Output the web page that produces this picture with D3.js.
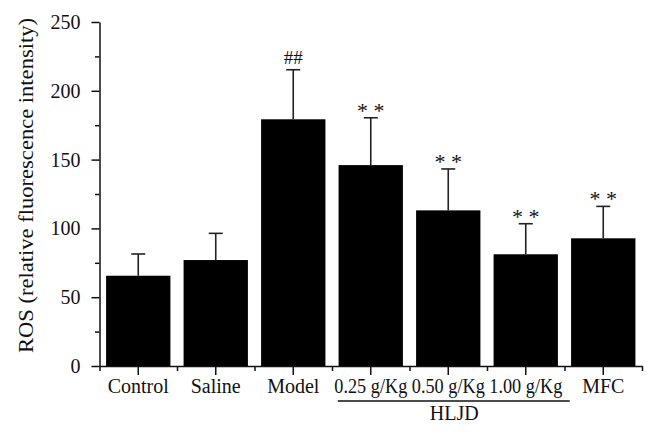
<!DOCTYPE html>
<html>
<head>
<meta charset="utf-8">
<script src="https://cdn.jsdelivr.net/npm/d3@7"></script>
<style>
  html, body { margin: 0; padding: 0; background: #fff; }
  svg { display: block; }
  svg text { font-family: "Liberation Serif", "Times New Roman", serif !important; fill: #111; }
</style>
</head>
<body>
<svg id="chart" width="656" height="438"></svg>
<script>
// ---- data ----
const categories = ["Control", "Saline", "Model", "0.25 g/Kg", "0.50 g/Kg", "1.00 g/Kg", "MFC"];
const means = [65.6, 77.0, 179.3, 146.0, 113.1, 81.2, 92.8];
const errors = [15.8, 19.4, 36.0, 34.4, 30.1, 22.2, 23.2];
const marks = ["", "", "##", "* *", "* *", "* *", "* *"];
const yMajorTicks = [0, 50, 100, 150, 200, 250];
const yMinorTicks = [25, 75, 125, 175, 225];
const groupLabel = "HLJD";
const groupMembers = ["0.25 g/Kg", "0.50 g/Kg", "1.00 g/Kg"];
const yTitle = "ROS (relative fluorescence intensity)";

// ---- layout ----
const plotLeft = 99.5, plotRight = 642, plotTop = 22, plotBottom = 366;
const svg = d3.select("#chart");

const x = d3.scaleBand().domain(categories).range([plotLeft, plotRight])
  .paddingInner(0.17).paddingOuter(0.085);
const xi = d3.scaleLinear().domain([0, categories.length]).range([plotLeft, plotRight]);
const y = d3.scaleLinear().domain([0, 250]).range([plotBottom, plotTop]);

// bars
svg.append("g").selectAll("rect").data(categories).join("rect")
  .attr("x", d => x(d))
  .attr("y", (d, i) => y(means[i]))
  .attr("width", x.bandwidth())
  .attr("height", (d, i) => y(0) - y(means[i]))
  .attr("fill", "#000");

// error bars
const eb = svg.append("g").attr("stroke", "#222").attr("stroke-width", 1.6);
categories.forEach((c, i) => {
  const cx = x(c) + x.bandwidth() / 2;
  eb.append("line").attr("x1", cx).attr("x2", cx)
    .attr("y1", y(means[i])).attr("y2", y(means[i] + errors[i]));
  eb.append("line").attr("x1", cx - 7).attr("x2", cx + 7)
    .attr("y1", y(means[i] + errors[i])).attr("y2", y(means[i] + errors[i]));
});

// significance marks
svg.append("g").selectAll("text").data(categories).join("text")
  .attr("x", d => x(d) + x.bandwidth() / 2)
  .attr("y", (d, i) => y(means[i] + errors[i]) - (marks[i] === "##" ? 6 : 0))
  .attr("text-anchor", "middle")
  .attr("font-size", (d, i) => marks[i] === "##" ? 19 : 22)
  .text((d, i) => marks[i]);

// y axis
const yAxisMajor = svg.append("g").attr("transform", `translate(${plotLeft},0)`)
  .call(d3.axisLeft(y).tickValues(yMajorTicks).tickSize(8).tickSizeOuter(0));
yAxisMajor.selectAll("text").attr("font-size", 20).attr("x", -19).attr("fill", "#111");
const yAxisMinor = svg.append("g").attr("transform", `translate(${plotLeft},0)`)
  .call(d3.axisLeft(y).tickValues(yMinorTicks).tickSize(4.5).tickFormat(""));
yAxisMinor.select(".domain").remove();

// x axis
const xAxisMajor = svg.append("g").attr("transform", `translate(0,${plotBottom})`)
  .call(d3.axisBottom(x).tickSize(9).tickSizeOuter(0).tickFormat(""));
const xAxisMinor = svg.append("g").attr("transform", `translate(0,${plotBottom})`)
  .call(d3.axisBottom(xi).tickValues(d3.range(categories.length + 1)).tickSize(5).tickFormat(""));
xAxisMinor.select(".domain").remove();

svg.selectAll(".domain, .tick line").attr("stroke", "#111").attr("stroke-width", 1.5);

// x labels
svg.append("g").selectAll("text").data(categories).join("text")
  .attr("x", d => x(d) + x.bandwidth() / 2)
  .attr("y", 393)
  .attr("text-anchor", "middle")
  .attr("font-size", 20)
  .each(function (d) {
    if (groupMembers.includes(d)) d3.select(this).attr("textLength", 73).attr("lengthAdjust", "spacingAndGlyphs");
  })
  .text(d => d);

// group line + label
const g0 = x(groupMembers[0]) + x.bandwidth() / 2 - 33;
const g1 = x(groupMembers[groupMembers.length - 1]) + x.bandwidth() / 2 + 44;
svg.append("line").attr("x1", g0).attr("x2", g1).attr("y1", 401).attr("y2", 401)
  .attr("stroke", "#111").attr("stroke-width", 1.5);
svg.append("text").attr("x", (x(groupMembers[1]) + x.bandwidth() / 2) + 6).attr("y", 420)
  .attr("text-anchor", "middle").attr("font-size", 20).text(groupLabel);

// y title
svg.append("text")
  .attr("transform", `translate(33,${(18 + 353) / 2}) rotate(-90)`)
  .attr("text-anchor", "middle")
  .attr("font-size", 20)
  .attr("textLength", 335).attr("lengthAdjust", "spacingAndGlyphs")
  .text(yTitle);
</script>
</body>
</html>
